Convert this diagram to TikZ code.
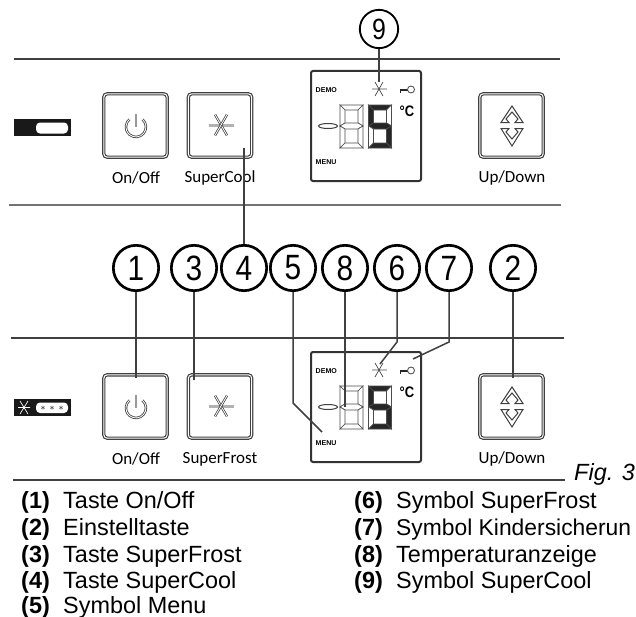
\documentclass[tikz,border=0pt]{standalone}
\usepackage{fontspec}
\usetikzlibrary{calc}
\setmainfont{Liberation Sans}
\newfontfamily\labelfont{Carlito}
\newfontfamily\numfont[FakeStretch=0.85]{Liberation Sans}
\colorlet{segdark}{black!85}
\tikzset{
  rulerline/.style={line width=0.06cm,black!75},
  leader/.style={line width=0.045cm,black!75},
  callout/.style={circle,draw,line width=0.08cm,fill=white,inner sep=0pt,minimum size=1.36cm,font=\numfont\fontsize{30}{30}\selectfont},
  smallcallout/.style={callout,line width=0.055cm,minimum size=1.15cm,font=\numfont\fontsize{25}{25}\selectfont},
  keybox/.style={draw=black!75,double=white,line width=0.035cm,double distance=0.03cm,rounded corners=0.1cm,minimum size=1.9cm,inner sep=0pt},
  keylabel/.style={font=\labelfont\fontsize{14.5}{15}\selectfont,black,inner sep=0pt},
  lcdbox/.style={draw=black!80,line width=0.06cm,rounded corners=0.06cm,minimum width=3.3cm,minimum height=3.3cm,inner sep=0pt},
  lcdtext/.style={font=\bfseries\fontsize{6}{6}\selectfont,anchor=west,inner sep=0pt},
  iconline/.style={draw=black!75,line width=0.03cm},
  segline/.style={draw=black!70,line width=0.02cm},
  legendno/.style={font=\bfseries\fontsize{20}{20}\selectfont,anchor=base west,inner sep=0pt},
  legendtext/.style={font=\fontsize{20}{20}\selectfont,anchor=base west,inner sep=0pt}
}
% star icon of the two cool keys
\newcommand{\snowicon}[1]{%
  \draw [black!30,line width=0.09cm] ($(#1)+(-12.5,0)$) -- ($(#1)+(12.5,0)$);%
  \foreach \ang in {60,120} {
    \draw [iconline,double=white,double distance=0.025cm,line width=0.022cm] ($(#1)+(\ang:-12)$) -- ($(#1)+(\ang:12)$);%
  }
}
% one seven segment digit: left edge, then the fills top, upper left, upper right, middle, lower left, lower right
\newcommand{\lcddigit}[7]{%
  \begin{scope}[shift={(#1,105)}]
    \filldraw [segline,fill=#2] (0,0) -- (23,0) -- (18,5) -- (5,5) -- cycle;%
    \filldraw [segline,fill=#3] (0,0) -- (5,5) -- (5,18) -- (0,21) -- cycle;%
    \filldraw [segline,fill=#4] (23,0) -- (23,21) -- (18,18) -- (18,5) -- cycle;%
    \filldraw [segline,fill=#5] (0,21) -- (5,18) -- (18,18) -- (23,21) -- (18,24) -- (5,24) -- cycle;%
    \filldraw [segline,fill=#6] (0,21) -- (5,24) -- (5,38) -- (0,43) -- cycle;%
    \filldraw [segline,fill=#7] (23,21) -- (23,43) -- (18,38) -- (18,24) -- cycle;%
    \filldraw [segline,fill=#2] (0,43) -- (5,38) -- (18,38) -- (23,43) -- cycle;%
  \end{scope}
}
% one panel of keys, #1 is the prefix of its names
\newcommand{\panelrow}[1]{%
  \node [keybox] (#1power) at (135.5,125.5) {};%
  \node [keybox] (#1cool) at (220,125.5) {};%
  \node [keybox] (#1updown) at (511.5,125.5) {};%
  \node [lcdbox] (#1lcd) at (366,126) {};%
  % power symbol
  \draw [iconline,double=white,double distance=0.025cm,line width=0.024cm] (142.4,119.3) arc (-50:230:10);%
  \draw [black!40,line width=0.08cm] (136,114) -- (136,127);%
  \snowicon{221,125}%
  % arrow symbols
  \draw [iconline] (512,106) -- (501,122.5) -- (509,122.5) -- (506,119) -- (512,112) -- (518,119) -- (515,122.5) -- (523,122.5) -- cycle;%
  \draw [iconline] (512,146) -- (501,128.5) -- (509,128.5) -- (506,132) -- (512,139) -- (518,132) -- (515,128.5) -- (523,128.5) -- cycle;%
  % inside of the display
  \node [lcdtext] (#1demo) at (315.5,90) {DEMO};%
  \node [lcdtext] (#1menu) at (315.5,162) {MENU};%
  \node [font=\numfont\bfseries\fontsize{13}{13}\selectfont,inner sep=0pt] (#1unit) at (407,111) {°C};%
  \draw [black!25,line width=0.05cm] (372,89) -- (387,89);%
  \draw [iconline,line width=0.02cm] (375,82) -- (383,96) (383,82) -- (375,96);%
  \draw [black!85,line width=0.04cm] (400,90) -- (408,90) (400.5,90) -- (400.5,92.5);%
  \draw [black!70,line width=0.025cm] (411,89.5) circle (3.5);%
  \draw [iconline,fill=white] (328,126) ellipse (9.5 and 2.5);%
  \lcddigit{340}{white}{white}{white}{white}{white}{white}%
  \lcddigit{368.5}{segdark}{segdark}{white}{segdark}{white}{segdark}%
}
\begin{document}
\begin{tikzpicture}[x=0.03cm,y=-0.03cm]
  \useasboundingbox (0,0) rectangle (636,617);
  \fill [white] (0,0) rectangle (636,617);

  % rules
  \draw [rulerline] (14,59) -- (560,59);
  \draw [rulerline,black!55] (9,205) -- (561,205);
  \draw [rulerline] (11,338) -- (564,338);
  \draw [rulerline] (13,480) -- (565,480);

  % upper panel
  \begin{scope}
    \panelrow{up}
    \fill [black!90] (14,119) rectangle (71,136);
    \fill [white,rounded corners=0.12cm] (36,122.5) rectangle (68,133.5);
    \node [keylabel] (uponoff) at (136,178) {On/Off};
    \node [keylabel] (upcoollabel) at (220,178) {SuperCool};
    \node [keylabel] (uparrows) at (512,178) {Up/Down};
  \end{scope}

  % lower panel
  \begin{scope}[shift={(0,281)}]
    \panelrow{lo}
    \fill [black!90] (14,118) rectangle (71,135);
    \fill [white,rounded corners=0.12cm] (36,121.5) rectangle (68,132);
    \draw [white,line width=0.02cm] (18,126.5) -- (30,126.5) (20,120) -- (28,133) (28,120) -- (20,133);
    \foreach \px in {43,52,61} {
      \node [font=\fontsize{8}{8}\selectfont,inner sep=0pt] at (\px,127) {$\ast$};
    }
    \node [keylabel] (loonoff) at (136,178) {On/Off};
    \node [keylabel] (lofrost) at (220,178) {SuperFrost};
    \node [keylabel] (loarrows) at (512,178) {Up/Down};
  \end{scope}

  % free ends of the leaders
  \coordinate (endpower) at (136,378);
  \coordinate (endfrost) at (194,380);
  \coordinate (endcool) at (244,148);
  \coordinate (bendmenu) at (293,403);
  \coordinate (endmenu) at (322,432);
  \coordinate (endtemp) at (345,407);
  \coordinate (bendsnow) at (397,342);
  \coordinate (endsnow) at (380,364);
  \coordinate (bendkey) at (449,342);
  \coordinate (endkey) at (413,359);
  \coordinate (endupdown) at (513,378);
  \coordinate (endtop) at (379,82);

  % callouts
  \node [callout] (one) at (136,268) {1};
  \node [callout] (three) at (194,268) {3};
  \node [callout] (four) at (244,268) {4};
  \node [callout] (five) at (293,268) {5};
  \node [callout] (eight) at (345,268) {8};
  \node [callout] (six) at (397,268) {6};
  \node [callout] (seven) at (449,268) {7};
  \node [callout] (two) at (513,268) {2};
  \node [smallcallout] (nine) at (379,29) {9};

  % leaders
  \draw [leader] (one) -- (endpower);
  \draw [leader] (three) -- (endfrost);
  \draw [leader] (four) -- (endcool);
  \draw [leader] (five) -- (bendmenu) -- (endmenu);
  \draw [leader] (eight) -- (endtemp);
  \draw [leader] (six) -- (bendsnow) -- (endsnow);
  \draw [leader] (seven) -- (bendkey) -- (endkey);
  \draw [leader] (two) -- (endupdown);
  \draw [leader] (nine) -- (endtop);

  % legend
  \node [font=\itshape\fontsize{20}{20}\selectfont,anchor=base west,inner sep=0pt] (figno) at (574,480) {Fig. 3};
  \node [legendno] (noa) at (21,508) {(1)};
  \node [legendtext] (texta) at (63,508) {Taste On/Off};
  \node [legendno] (nob) at (21,535) {(2)};
  \node [legendtext] (textb) at (63,535) {Einstelltaste};
  \node [legendno] (noc) at (21,562) {(3)};
  \node [legendtext] (textc) at (63,562) {Taste SuperFrost};
  \node [legendno] (nod) at (21,588) {(4)};
  \node [legendtext] (textd) at (63,588) {Taste SuperCool};
  \node [legendno] (noe) at (21,613) {(5)};
  \node [legendtext] (texte) at (63,613) {Symbol Menu};
  \node [legendno] (nof) at (354,508) {(6)};
  \node [legendtext] (textf) at (396,508) {Symbol SuperFrost};
  \node [legendno] (nog) at (354,535) {(7)};
  \node [legendtext,font=\fontsize{19.5}{20}\selectfont] (textg) at (396,535) {Symbol Kindersicherun};
  \node [legendno] (noh) at (354,562) {(8)};
  \node [legendtext] (texth) at (396,562) {Temperaturanzeige};
  \node [legendno] (noi) at (354,588) {(9)};
  \node [legendtext] (texti) at (396,588) {Symbol SuperCool};
\end{tikzpicture}
\end{document}
